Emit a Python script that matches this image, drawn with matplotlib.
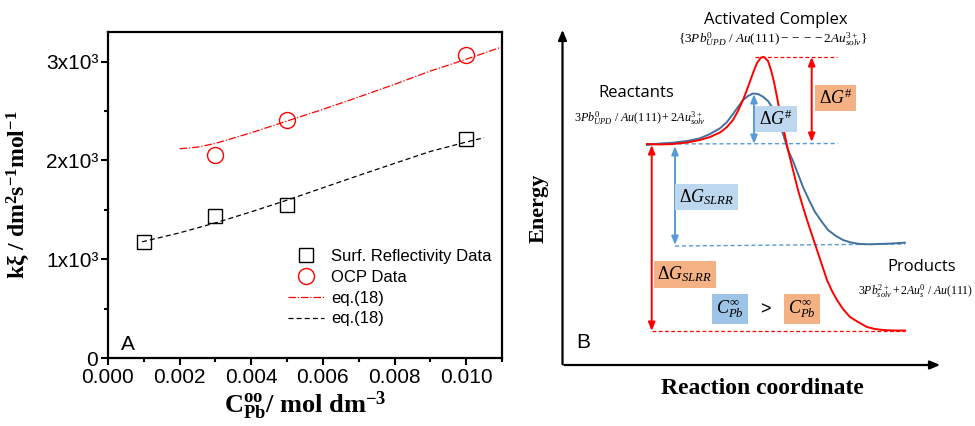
"""Panel A: k*xi vs C_Pb with eq.(18) fits; panel B: energy diagram sketch."""

import matplotlib
matplotlib.use("Agg")
import matplotlib.pyplot as plt
from matplotlib.lines import Line2D

plt.rcParams["mathtext.fontset"] = "custom"
plt.rcParams["mathtext.rm"] = "Liberation Serif"
plt.rcParams["mathtext.it"] = "Liberation Serif:italic"
plt.rcParams["mathtext.bf"] = "Liberation Serif:bold"

# ---- panel A data ----
refl_c = [0.001, 0.003, 0.005, 0.010]
refl_k = [1176, 1436, 1544, 2213]
ocp_c = [0.003, 0.005, 0.010]
ocp_k = [2057, 2409, 3064]

# eq.(18) curves
fit_red_c = [0.0020, 0.0025, 0.0030, 0.0040, 0.0050, 0.0060, 0.0070, 0.0080, 0.0090, 0.0100, 0.0110]
fit_red_k = [2118, 2135, 2172, 2280, 2399, 2517, 2642, 2770, 2905, 3024, 3149]
fit_blk_c = [0.00095, 0.0020, 0.0030, 0.0040, 0.0050, 0.0060, 0.0070, 0.0080, 0.0090, 0.0100, 0.0105]
fit_blk_k = [1176, 1267, 1368, 1480, 1598, 1723, 1848, 1970, 2091, 2186, 2230]

x_ticks = [0.000, 0.002, 0.004, 0.006, 0.008, 0.010]
x_ticklabels = ["0.000", "0.002", "0.004", "0.006", "0.008", "0.010"]
y_ticks = [0, 1000, 2000, 3000]
y_ticklabels = ["0", "1x10³", "2x10³", "3x10³"]

# ---- panel B sketch (reaction coordinate / energy, in panel units) ----
rxn_red = [647, 660, 673, 687, 700, 710, 720, 727, 733, 738, 743, 748, 753, 757, 761, 764,
           768, 771, 774, 777, 780, 784, 788, 793, 798, 803, 808, 813, 817, 822, 827, 832,
           837, 843, 850, 858, 867, 875, 883, 894, 905]
energy_red = [144, 144.5, 144, 142.5, 140, 137, 132.5, 127, 120, 111, 100, 87, 73, 63, 57.5, 57,
              61, 70, 82, 97, 113, 131, 150, 170, 190, 207, 223, 238, 250, 265, 280, 291,
              300, 309, 317, 322, 327, 329, 330, 330.5, 330.5]
rxn_blue = [647, 660, 673, 687, 700, 710, 720, 727, 733, 738, 743, 748, 753, 758, 763, 768,
            772, 776, 780, 784, 788, 793, 798, 803, 809, 815, 822, 828, 836, 843, 851, 860,
            870, 880, 892, 905]
energy_blue = [145, 143.5, 142.7, 141, 138.3, 134, 128.3, 122, 114, 107, 100, 96, 93.5, 94, 96.7, 101,
               107, 115, 125, 137, 150, 161, 174, 187, 200, 212, 222, 230, 236, 240, 242.5, 244,
               244.3, 244, 243.5, 242.7]

fig = plt.figure(figsize=(9.75, 4.26), dpi=100)

# ================= panel A =================
ax = fig.add_axes([108 / 975, 68 / 426, 394 / 975, 326 / 426])
ax.plot(fit_red_c, fit_red_k, color="red", lw=0.9, ls=(0, (6, 1.5, 1, 1.5)))
ax.plot(fit_blk_c, fit_blk_k, color="black", lw=0.9, ls=(0, (4, 2.5)))
ax.plot(refl_c, refl_k, ls="none", marker="s", ms=10, mfc="none", mec="black", mew=1.0)
ax.plot(ocp_c, ocp_k, ls="none", marker="o", ms=11.5, mfc="none", mec="red", mew=1.0)

ax.set_xlim(0, 0.011)
ax.set_ylim(0, 3300)
ax.set_xticks(x_ticks)
ax.set_xticklabels(x_ticklabels)
ax.set_xticks([0.001, 0.003, 0.005, 0.007, 0.009, 0.011], minor=True)
ax.set_yticks(y_ticks)
ax.set_yticklabels(y_ticklabels)
ax.set_yticks([500, 1500, 2500], minor=True)
for lab in ax.get_xticklabels() + ax.get_yticklabels():
    lab.set_family("Liberation Sans")
    lab.set_fontsize(15)
ax.tick_params(which="major", direction="out", length=5, width=1.5, pad=2)
ax.tick_params(which="minor", direction="out", length=3, width=1.5)
for sp in ax.spines.values():
    sp.set_linewidth(1.6)

ax.set_xlabel(r"$\mathbf{C^{oo}_{Pb}}$/ mol dm$^{\mathbf{-3}}$", family="Liberation Serif",
              fontweight="bold", fontsize=19, labelpad=2)
ax.set_ylabel(r"kξ / dm$^{\mathbf{2}}$s$^{\mathbf{-1}}$mol$^{\mathbf{-1}}$",
              family="Liberation Serif", fontweight="bold", fontsize=17, labelpad=9)
ax.text(0.00035, 40, "A", family="Liberation Sans", fontsize=15, va="bottom")

handles = [
    Line2D([], [], ls="none", marker="s", ms=10, mfc="none", mec="black", mew=1.0),
    Line2D([], [], ls="none", marker="o", ms=11.5, mfc="none", mec="red", mew=1.0),
    Line2D([], [], color="red", lw=0.9, ls=(0, (6, 1.5, 1, 1.5))),
    Line2D([], [], color="black", lw=0.9, ls=(0, (4, 2.5))),
]
labels = ["Surf. Reflectivity Data", "OCP Data", "eq.(18)", "eq.(18)"]
ax.legend(handles, labels, loc="upper left", bbox_to_anchor=(0.435, 0.36),
          frameon=False, handlelength=2.2, handletextpad=0.4, labelspacing=0.35,
          borderpad=0, prop={"family": "Liberation Sans", "size": 12})

# ================= panel B =================
bx = fig.add_axes([540 / 975, 0, 435 / 975, 1])
bx.set_xlim(540, 975)
bx.set_ylim(426, 0)
bx.axis("off")

red = "#ff0000"
blue_line = "#41719c"
blue_arr = "#5b9bd5"
orange_box = "#f4b183"
blue_box = "#bdd7ee"
blue_box2 = "#9dc3e6"

# axes arrows
bx.annotate("", xy=(562.5, 27), xytext=(562.5, 367),
            arrowprops=dict(arrowstyle="-|>,head_length=0.6,head_width=0.25", color="black", lw=1.6))
bx.annotate("", xy=(943, 365), xytext=(561.5, 365),
            arrowprops=dict(arrowstyle="-|>,head_length=0.6,head_width=0.25", color="black", lw=1.6))

# dashed reference levels
bx.plot([755, 837], [57, 57], color=red, lw=0.9, ls=(0, (3, 2)))
bx.plot([650, 838], [144, 143.5], color=blue_arr, lw=1.0, ls=(0, (3, 2)))
bx.plot([675, 905], [246, 244], color=blue_arr, lw=1.0, ls=(0, (3, 2)))
bx.plot([652, 905], [331, 331], color=red, lw=0.9, ls=(0, (3, 2)))

# energy profiles
bx.plot(rxn_blue, energy_blue, color=blue_line, lw=1.4)
bx.plot(rxn_red, energy_red, color=red, lw=1.4)

# double-headed arrows
def darrow(x, y0, y1, color):
    bx.annotate("", xy=(x, y0), xytext=(x, y1),
                arrowprops=dict(arrowstyle="<|-|>,head_length=0.5,head_width=0.2",
                                color=color, lw=1.4, shrinkA=0, shrinkB=0))

darrow(651.7, 145, 331, red)
darrow(675, 146, 245, blue_arr)
darrow(754, 94, 144, blue_arr)
darrow(811.7, 57, 142, red)

# labelled boxes
box_kw = dict(ha="center", va="center", fontsize=13)
bx.text(835.5, 98, r"$\Delta G^{\#}$", bbox=dict(boxstyle="square,pad=0.2", fc=orange_box, ec="none"), **box_kw)
bx.text(776, 119, r"$\Delta G^{\#}$", bbox=dict(boxstyle="square,pad=0.2", fc=blue_box, ec="none"), **box_kw)
bx.text(706.5, 197, r"$\Delta G_{SLRR}$", bbox=dict(boxstyle="square,pad=0.2", fc=blue_box, ec="none"), **box_kw)
bx.text(685, 274.5, r"$\Delta G_{SLRR}$", bbox=dict(boxstyle="square,pad=0.2", fc=orange_box, ec="none"), **box_kw)
bx.text(730, 309, r"$C^{\infty}_{Pb}$", bbox=dict(boxstyle="square,pad=0.25", fc=blue_box2, ec="none"), **box_kw)
bx.text(765, 310, ">", ha="center", va="center", fontsize=13, family="Liberation Sans")
bx.text(802, 309, r"$C^{\infty}_{Pb}$", bbox=dict(boxstyle="square,pad=0.25", fc=orange_box, ec="none"), **box_kw)

# titles and species
bx.text(776, 20, "Activated Complex", ha="center", va="center", fontsize=12, family="Open Sans")
bx.text(773, 40, r"$\{3Pb^{0}_{UPD}\ /\ Au(111)----2Au^{3+}_{solv}\}$", ha="center", va="center", fontsize=9.5)
bx.text(636, 93, "Reactants", ha="center", va="center", fontsize=12, family="Open Sans")
bx.text(640, 119, r"$3Pb^{0}_{UPD}\ /\ Au(111)+2Au^{3+}_{solv}$", ha="center", va="center", fontsize=8.7)
bx.text(922, 267, "Products", ha="center", va="center", fontsize=12, family="Open Sans")
bx.text(973, 292, r"$3Pb^{2+}_{solv}+2Au^{0}_{s}\ /\ Au(111)$", ha="right", va="center", fontsize=8.5)

bx.text(583, 342, "B", ha="center", va="center", fontsize=15, family="Liberation Sans")
bx.text(762, 388, "Reaction coordinate", ha="center", va="center", fontsize=17,
        family="Liberation Serif", fontweight="bold")
bx.text(539, 208, "Energy", ha="center", va="center", rotation=90, fontsize=16,
        family="Liberation Serif", fontweight="bold")

fig.savefig("out.png", dpi=100)
